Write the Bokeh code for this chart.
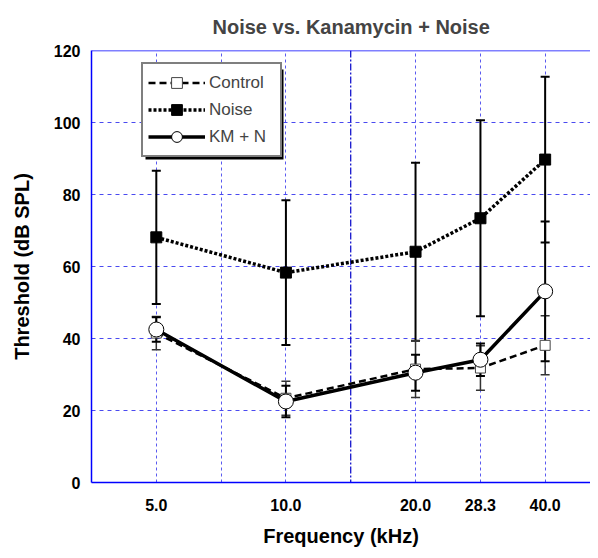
from bokeh.plotting import figure
from bokeh.models import (FixedTicker, PrintfTickFormatter, Legend, LegendItem,
                          Span, BoxAnnotation, ColumnDataSource, Range1d)
from bokeh.embed import file_html
from bokeh.resources import INLINE

# ---- data ----
freq = [5.0, 10.0, 20.0, 28.3, 40.0]
control = [41.5, 23.4, 31.5, 31.8, 38.1]
control_sd = [4.6, 4.7, 7.9, 6.2, 8.2]
noise = [68.1, 58.3, 64.1, 73.4, 89.7]
noise_sd = [18.5, 20.1, 24.7, 27.2, 23.0]
kmn = [42.5, 22.5, 30.5, 34.1, 53.1]
kmn_sd = [3.4, 4.4, 5.0, 4.5, 19.4]
x_ticks = [5.0, 10.0, 20.0, 28.3, 40.0]
y_ticks = [0, 20, 40, 60, 80, 100, 120]

FONT = "Liberation Sans"

p = figure(width=590, height=550, x_axis_type="log", output_backend="svg",
           toolbar_location=None, x_range=Range1d(5 / 2 ** 0.5, 50.98),
           y_range=Range1d(0, 120), min_border_left=91, min_border_right=0,
           min_border_top=49, min_border_bottom=68)
p.title.text = "Noise vs. Kanamycin + Noise"
p.title.align = "left"
p.title.text_font = FONT
p.title.text_font_size = "20px"
p.title.text_font_style = "bold"
p.title.offset = 121
p.title.standoff = 26

p.outline_line_color = None
p.add_layout(Span(location=y_ticks[-1], dimension="width", line_color="#0000ff",
                  line_width=1.5))

# axes
p.xaxis.ticker = FixedTicker(ticks=x_ticks)
p.xaxis.formatter = PrintfTickFormatter(format="%.1f")
p.yaxis.ticker = FixedTicker(ticks=y_ticks)
for ax in (p.xaxis[0], p.yaxis[0]):
    ax.axis_line_color = "#0000ff"
    ax.axis_line_width = 1.5
    ax.major_tick_in = 0
    ax.major_tick_out = 0
    ax.minor_tick_in = 0
    ax.minor_tick_out = 0
    ax.major_label_text_font = FONT
    ax.major_label_text_font_size = "16px"
    ax.major_label_text_font_style = "bold"
    ax.major_label_text_color = "black"
    ax.axis_label_text_font = FONT
    ax.axis_label_text_font_size = "20px"
    ax.axis_label_text_font_style = "bold"
    ax.axis_label_text_color = "black"
p.xaxis.axis_label = "Frequency (kHz)"
p.yaxis.axis_label = "Threshold (dB SPL)"
p.xaxis.major_label_standoff = 16
p.xaxis.axis_label_standoff = 11
p.yaxis.major_label_standoff = 11
p.yaxis.axis_label_standoff = 18

# grids
grid_x = [5 * 2 ** (k / 2) for k in range(-1, 8)]
p.xgrid.ticker = FixedTicker(ticks=[g for g in grid_x if abs(g - 14.142) > 0.01])
p.xgrid.grid_line_color = "#5a5af0"
p.xgrid.grid_line_dash = "3 3"
p.xgrid.grid_line_width = 1
p.ygrid.ticker = FixedTicker(ticks=y_ticks[1:-1])
p.ygrid.grid_line_color = "#4a4af0"
p.ygrid.grid_line_dash = "4 4"
p.ygrid.grid_line_width = 1
p.add_layout(Span(location=10 * 2 ** 0.5, dimension="height", line_color="#0000c8",
                  line_dash="7 2 2 2", line_width=1.2, level="underlay"))

# data sources
def src(vals, sd):
    return ColumnDataSource(dict(x=freq, y=vals,
                                 lo=[v - s for v, s in zip(vals, sd)],
                                 hi=[v + s for v, s in zip(vals, sd)]))

s_c = src(control, control_sd)
s_n = src(noise, noise_sd)
s_k = src(kmn, kmn_sd)

# error bars
for s, col, w in ((s_n, "black", 2), (s_c, "#333333", 1.5), (s_k, "black", 2)):
    p.segment(x0="x", y0="lo", x1="x", y1="hi", source=s, line_color=col, line_width=w)
    p.scatter(x="x", y="lo", source=s, marker="dash", size=9, line_color=col, line_width=w)
    p.scatter(x="x", y="hi", source=s, marker="dash", size=9, line_color=col, line_width=w)

# lines + markers
l_c = p.line(x="x", y="y", source=s_c, line_color="black", line_width=2.5, line_dash="7 4")
l_n = p.line(x="x", y="y", source=s_n, line_color="black", line_width=3.5, line_dash="3 2")
l_k = p.line(x="x", y="y", source=s_k, line_color="black", line_width=3.5)
m_c = p.scatter(x="x", y="y", source=s_c, marker="square", size=10,
                fill_color="white", line_color="#444444", line_width=1)
m_n = p.scatter(x="x", y="y", source=s_n, marker="square", size=11,
                fill_color="black", line_color="black")
m_k = p.scatter(x="x", y="y", source=s_k, marker="circle", size=15,
                fill_color="white", line_color="black", line_width=1)

# legend shadow
p.add_layout(BoxAnnotation(left=145, right=283, top=69, bottom=159,
                           left_units="canvas", right_units="canvas",
                           top_units="canvas", bottom_units="canvas",
                           fill_color="black", fill_alpha=1, line_color=None,
                           level="annotation"))

legend = Legend(items=[LegendItem(label="Control", renderers=[l_c, m_c]),
                       LegendItem(label="Noise", renderers=[l_n, m_n]),
                       LegendItem(label="KM + N", renderers=[l_k, m_k])],
                location=(50, 325), glyph_width=57, glyph_height=27,
                label_height=27, label_width=66, spacing=0, padding=5,
                label_standoff=4,
                label_text_font=FONT, label_text_font_size="17px",
                border_line_color="black", border_line_width=2,
                background_fill_color="white", background_fill_alpha=1,
                margin=0)
p.add_layout(legend, "center")

open("out.html", "w").write(file_html(p, INLINE))
